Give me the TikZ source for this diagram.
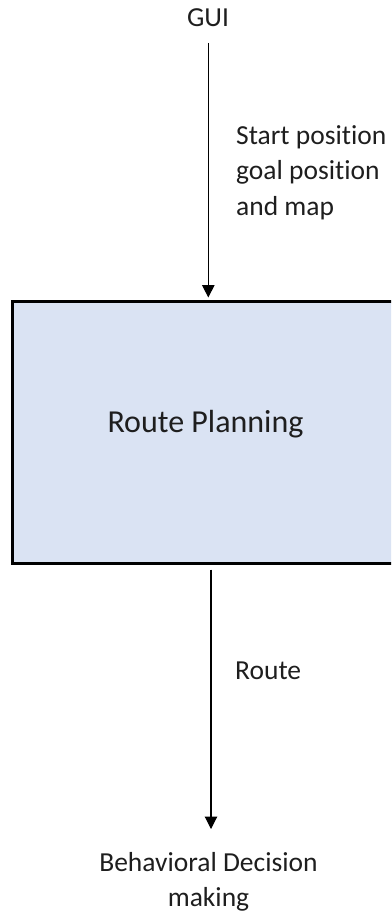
\documentclass[tikz,border=0pt]{standalone}
\usepackage{fontspec}
\setmainfont{Carlito}[Ligatures=NoCommon]
\usetikzlibrary{arrows.meta}
\definecolor{boxfill}{HTML}{DAE3F3}
\definecolor{ink}{HTML}{1E1E1E}
\begin{document}
\begin{tikzpicture}[x=1pt,y=-1pt,
  lbl/.style={inner sep=0pt,anchor=base west,text=ink,font=\fontsize{27.5}{35.5}\selectfont,align=left},
  ctr/.style={inner sep=0pt,anchor=base,text=ink,font=\fontsize{27.5}{35.5}\selectfont,align=center},
  blockbox/.style={draw=black,line width=3pt,fill=boxfill,minimum width=388pt,minimum height=262pt,inner sep=0pt},
  flow/.style={draw=black,line width=1.1pt,-{Triangle[length=12.5pt,width=12.5pt]}}]
\useasboundingbox (0,0) rectangle (391,912);
\begin{scope}
\clip (0,0) rectangle (391,912);
% main processing block, running past the right edge
\node[blockbox] (rp) at (206,432) {};
\end{scope}
\node[ctr,font=\fontsize{32}{38}\selectfont] (rptext) at (205.5,432) {Route Planning};

% source and sink texts (base = baseline of the last line)
\node[ctr] (gui) at (208,27) {GUI};
\node[ctr] (beh) at (208.5,906.5) {Behavioral Decision\\making};

% edge labels
\node[lbl] (inlbl) at (236,215) {Start position\\goal position\\and map};
\node[lbl] (outlbl) at (235,679) {Route};

% connectors
\coordinate (guiout) at (208.3,43);
\coordinate (behin) at (211,829);
\draw[flow,shorten >=2pt] (guiout) -- (guiout |- rp.north);
\draw[flow,shorten <=5pt] (behin |- rp.south) -- (behin);
\end{tikzpicture}
\end{document}
